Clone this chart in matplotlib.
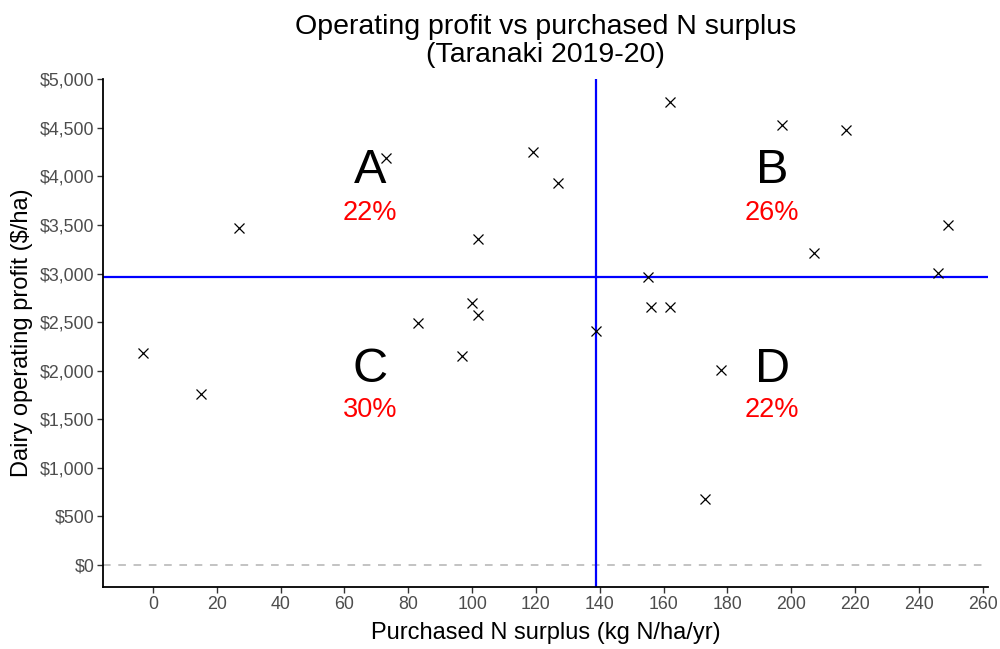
import numpy as np
import matplotlib
matplotlib.use("Agg")
import matplotlib.pyplot as plt
from matplotlib.ticker import FuncFormatter, MultipleLocator

plt.rcParams['font.family'] = ['Liberation Sans', 'DejaVu Sans']

# purchased N surplus (kg N/ha/yr) and dairy operating profit ($/ha)
n_surplus = [73, 119, 27, 102, 127,
             162, 197, 217, 249, 207, 246,
             100, 102, 83, -3, 97, 15, 138.9,
             155, 156, 162, 178, 173]
profit = [4193, 4255, 3472, 3355, 3935,
          4763, 4533, 4475, 3496, 3211, 3002,
          2693, 2569, 2493, 2178, 2150, 1758, 2404,
          2967, 2658, 2658, 2006, 677]

quad_labels = ['A', 'B', 'C', 'D']
quad_pcts = ['22%', '26%', '30%', '22%']
quad_x = [68, 194, 68, 194]
quad_y = [4060, 4060, 2015, 2015]
pct_y = [3625, 3625, 1595, 1595]

x = np.array(n_surplus)
y = np.array(profit)
x_med = np.median(x)
y_med = np.median(y)

fig = plt.figure(figsize=(10, 6.49), dpi=100)
ax = fig.add_axes([0.103, 0.095, 0.885, 0.7833])

ax.axhline(0, color='#b3b3b3', lw=1.1, ls=(0, (5, 5)), zorder=1)
ax.axvline(x_med, color='#0000ff', lw=1.6, zorder=2)
ax.axhline(y_med, color='#0000ff', lw=1.6, zorder=2)
ax.plot(x, y, 'x', color='black', ms=7.5, mew=0.9, zorder=3)

for lab, pct, qx, qy, py in zip(quad_labels, quad_pcts, quad_x, quad_y, pct_y):
    ax.text(qx, qy, lab, fontsize=35, ha='center', va='center', color='black')
    ax.text(qx, py, pct, fontsize=19.5, ha='center', va='center', color='#ff0000')

ax.set_xlim(-15.6, 261.6)
ax.set_ylim(-233, 5004)
ax.xaxis.set_major_locator(MultipleLocator(20))
ax.yaxis.set_major_locator(MultipleLocator(500))
ax.yaxis.set_major_formatter(FuncFormatter(lambda v, p: '${:,.0f}'.format(v)))

for s in ['top', 'right']:
    ax.spines[s].set_visible(False)
for s in ['left', 'bottom']:
    ax.spines[s].set_linewidth(1.3)
ax.tick_params(length=4, width=1, color='#333333', labelcolor='#4d4d4d',
               labelsize=12.8, pad=2)

ax.set_xlabel('Purchased N surplus (kg N/ha/yr)', fontsize=17, labelpad=7)
ax.set_ylabel('Dairy operating profit ($/ha)', fontsize=17, labelpad=5)
ax.set_title('Operating profit vs purchased N surplus\n(Taranaki 2019-20)',
             fontsize=20.5, linespacing=1.13, pad=12)

fig.savefig('out.png', dpi=100)
